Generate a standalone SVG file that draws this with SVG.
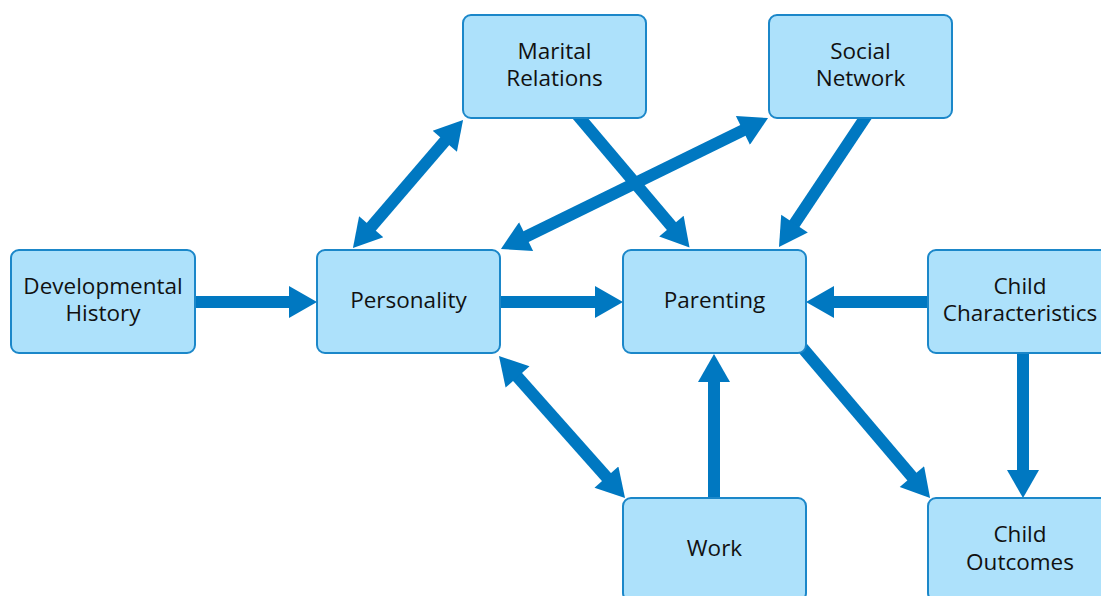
<svg xmlns="http://www.w3.org/2000/svg" width="1101" height="596" viewBox="0 0 1101 596">
<style>
.box{fill:#ade1fb;stroke:#1b87c9;stroke-width:2}
.lbl{font-family:"Open Sans","Noto Sans","Liberation Sans",sans-serif;font-size:22.5px;fill:#111;text-anchor:middle}
.c line{stroke:#0078c1;stroke-width:12;fill:none}
.c .s{marker-end:url(#ah)}
.c .d{marker-start:url(#ah);marker-end:url(#ah)}
</style>
<defs>
<marker id="ah" markerUnits="userSpaceOnUse" markerWidth="32" markerHeight="32" viewBox="0 0 28 32" refX="4" refY="16" orient="auto-start-reverse">
<path d="M0,0 L28,16 L0,32 z" fill="#0078c1"/>
</marker>
</defs>
<rect width="1101" height="596" fill="#fff"/>
<g id="connectors" class="c">
<line class="s" x1="190" y1="302" x2="293" y2="302"/>
<line class="s" x1="495" y1="302" x2="599" y2="302"/>
<line class="s" x1="935" y1="302" x2="830" y2="302"/>
<line class="s" x1="714" y1="505" x2="714" y2="378"/>
<line class="s" x1="1023" y1="346" x2="1023" y2="474"/>
<line class="d" x1="368.6" y1="229.8" x2="447.4" y2="138.2"/>
<line class="d" x1="746.5" y1="128.6" x2="522.5" y2="238.4"/>
<line class="s" x1="572" y1="108.6" x2="674" y2="229.1"/>
<line class="s" x1="871" y1="109" x2="792.3" y2="227"/>
<line class="d" x1="514.9" y1="374" x2="609.1" y2="480"/>
<line class="s" x1="799.5" y1="344.4" x2="914.5" y2="479.7"/>
</g>
<g id="dev"><rect class="box" x="11" y="250" width="184" height="103" rx="8"/><text class="lbl" x="103" y="294">Developmental<tspan x="103" dy="27">History</tspan></text></g>
<g id="personality"><rect class="box" x="317" y="250" width="183" height="103" rx="8"/><text class="lbl" x="408.5" y="308">Personality</text></g>
<g id="parenting"><rect class="box" x="623" y="250" width="183" height="103" rx="8"/><text class="lbl" x="714.5" y="308">Parenting</text></g>
<g id="childchar"><rect class="box" x="928" y="250" width="184" height="103" rx="8"/><text class="lbl" x="1020" y="294">Child<tspan x="1020" dy="27">Characteristics</tspan></text></g>
<g id="marital"><rect class="box" x="463" y="15" width="183" height="103" rx="8"/><text class="lbl" x="554.5" y="59">Marital<tspan x="554.5" dy="27">Relations</tspan></text></g>
<g id="social"><rect class="box" x="769" y="15" width="183" height="103" rx="8"/><text class="lbl" x="860.5" y="59">Social<tspan x="860.5" dy="27">Network</tspan></text></g>
<g id="work"><rect class="box" x="623" y="498" width="183" height="103" rx="8"/><text class="lbl" x="714.5" y="556">Work</text></g>
<g id="outcomes"><rect class="box" x="928" y="498" width="184" height="103" rx="8"/><text class="lbl" x="1020" y="542">Child<tspan x="1020" dy="28">Outcomes</tspan></text></g>
</svg>
